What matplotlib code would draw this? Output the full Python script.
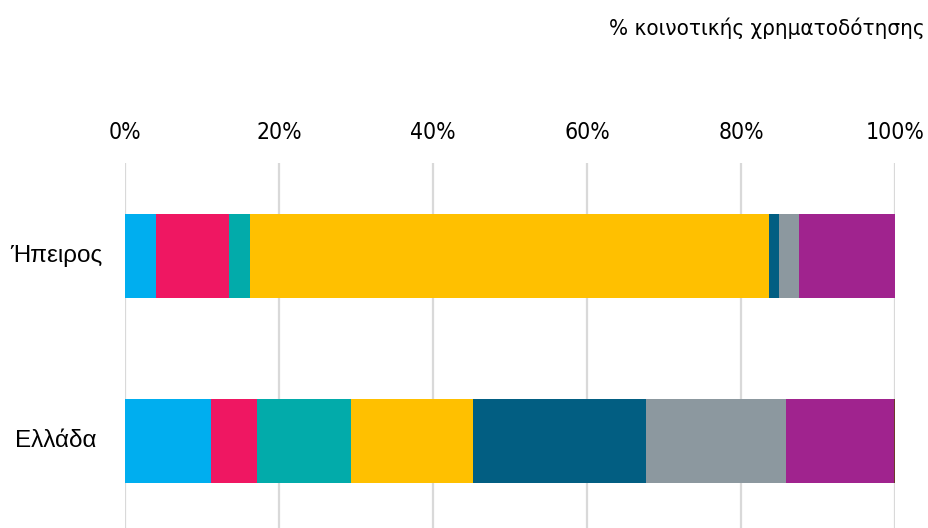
import matplotlib.pyplot as plt
import numpy as np

plt.rcParams['font.family'] = ['Liberation Sans', 'DejaVu Sans']

regions = ["Ήπειρος", "Ελλάδα"]
# share of funding per category, in %
epirus = [4.0, 9.5, 2.7, 67.5, 1.2, 2.6, 12.5, 0.0]
greece = [11.2, 5.9, 12.3, 15.8, 22.5, 18.1, 14.1, 0.1]
colors = ["#00AEEF", "#EF1762", "#02ABAA", "#FFC000",
          "#025E82", "#8C989F", "#A0238E", "#6B3A2A"]
ticks = [0, 20, 40, 60, 80, 100]

data = np.array([epirus, greece])

fig = plt.figure(figsize=(9.29, 5.28), dpi=100)
ax = fig.add_axes([125 / 929, 0, 770 / 929, 1 - 163 / 528])

y = np.arange(len(regions))
left = np.zeros(len(regions))
for i in range(data.shape[1]):
    ax.barh(y, data[:, i], left=left, height=0.455, color=colors[i],
            zorder=3, linewidth=0)
    left += data[:, i]

ax.set_xlim(0, 100)
ax.set_ylim(1.47, -0.503)
ax.xaxis.tick_top()
ax.set_xticks(ticks)
ax.set_xticklabels([f"{t}%" for t in ticks])
for lab in ax.get_xticklabels():
    lab.set_fontfamily('DejaVu Sans')
    lab.set_fontstretch('condensed')
    lab.set_fontsize(16.5)
ax.tick_params(axis='x', length=0, pad=14)
ax.grid(axis='x', color='#d9d9d9', linewidth=1.6, zorder=0)
ax.set_yticks([])
for s in ax.spines.values():
    s.set_visible(False)

tr = ax.get_yaxis_transform()
for yi, name in zip(y, regions):
    ax.text(-0.0896, yi, name, transform=tr, ha='center', va='center',
            fontsize=17.5)

fig.text(925 / 929, 1 - 28 / 528, "% κοινοτικής χρηματοδότησης",
         ha='right', va='center', fontsize=16, family='DejaVu Sans',
         stretch='condensed')

fig.savefig("out.png", dpi=100)
